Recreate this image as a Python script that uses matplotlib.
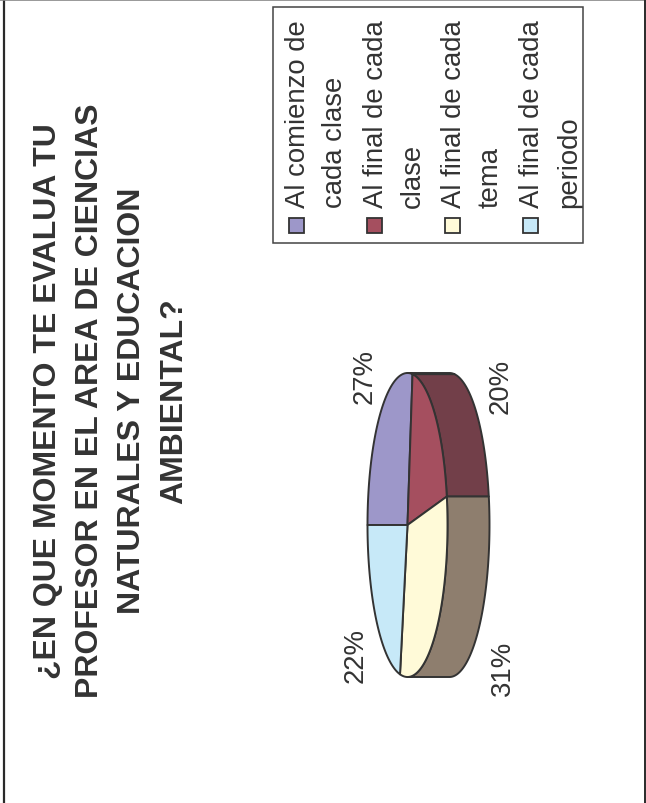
import numpy as np
import matplotlib.pyplot as plt
from matplotlib.patches import Polygon, Rectangle

# survey answers (percent)
categories = ['Al comienzo de\ncada clase', 'Al final de cada\nclase',
              'Al final de cada\ntema', 'Al final de cada\nperiodo']
values = [27, 20, 31, 22]
title_lines = ['¿EN QUE MOMENTO TE EVALUA TU',
               'PROFESOR EN EL AREA DE CIENCIAS',
               'NATURALES Y EDUCACION',
               'AMBIENTAL?']

top_colors = ['#9d97c9', '#a54f5f', '#fffad8', '#c7e9f8']
side_colors = ['#5e5a86', '#723f49', '#8e7e6e', '#7d9aa8']
edge = '#333333'
txt = '#333333'

W, H = 646, 804
fig = plt.figure(figsize=(W / 100, H / 100), dpi=100)
ax = fig.add_axes([0, 0, 1, 1])
ax.set_xlim(0, W)
ax.set_ylim(H, 0)
ax.axis('off')

# page frame
ax.plot([3.5, 3.5], [0, H], color='#2a2a2a', lw=1.6)
ax.plot([0, W], [0.6, 0.6], color='#888888', lw=1.2)
ax.plot([644.8, 644.8], [0, H], color='#2a2a2a', lw=1.4)

# title, drawn sideways (reads bottom to top)
for i, line in enumerate(title_lines):
    ax.text(56 + 42 * i, 401, line, rotation=90, rotation_mode='anchor',
            ha='center', va='baseline', fontsize=23, fontweight='bold',
            family='Liberation Sans', color=txt)

# 3D pie: ellipse lying on its side, depth pointing right
cx, cy = 407.5, 526
A, B, D = 152, 40, 42


def rim(t, depth=0.0):
    r = np.radians(t)
    return np.column_stack([cx - B * np.cos(r) + depth, cy - A * np.sin(r)])


bounds = np.concatenate([[0], np.cumsum(values)]) / np.sum(values) * 360

for k in range(len(values)):
    lo, hi = max(bounds[k], 90), min(bounds[k + 1], 270)
    if lo < hi:
        ts = np.linspace(lo, hi, 80)
        pts = np.vstack([rim(ts), rim(ts[::-1], D)])
        ax.add_patch(Polygon(pts, closed=True, fc=side_colors[k], ec=edge,
                             lw=1.4, joinstyle='round', zorder=2))

for k in range(len(values)):
    ts = np.linspace(bounds[k], bounds[k + 1], 120)
    pts = np.vstack([[cx, cy], rim(ts)])
    ax.add_patch(Polygon(pts, closed=True, fc=top_colors[k], ec=edge,
                         lw=1.4, joinstyle='round', zorder=3))

# percentage labels
label_pos = [(372, 377), (508, 386), (510, 668), (363, 656)]
for v, (lx, ly) in zip(values, label_pos):
    ax.text(lx, ly, f'{v}%', rotation=90, rotation_mode='anchor',
            ha='center', va='baseline', fontsize=19.8,
            family='Liberation Sans', color=txt)

# legend
ax.add_patch(Rectangle((272.5, 7.5), 310.5, 236.5, fill=False,
                       ec='#444444', lw=1.1, zorder=4))
for k, name in enumerate(categories):
    sx = 296 + 78 * k
    ax.add_patch(Rectangle((sx - 7.5, 218.5), 15, 15, fc=top_colors[k],
                           ec=edge, lw=1.3, zorder=5))
    for j, part in enumerate(name.split('\n')):
        ax.text(sx + 9 + 37 * j, 207.5, part, rotation=90,
                rotation_mode='anchor', ha='left', va='baseline',
                fontsize=19.8, family='Liberation Sans', color=txt)

fig.savefig('out.png', dpi=100, facecolor='white')
